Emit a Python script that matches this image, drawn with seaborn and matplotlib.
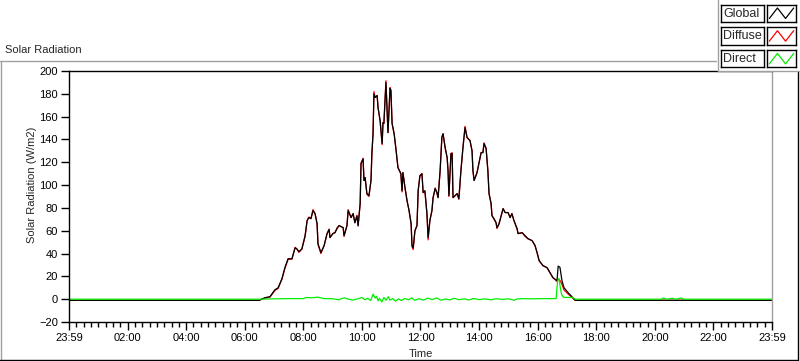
import matplotlib
matplotlib.use("Agg")
import matplotlib.pyplot as plt
import pandas as pd
import seaborn as sns
from matplotlib.lines import Line2D
from matplotlib.patches import Rectangle
from matplotlib.ticker import MultipleLocator

# ---- data (hours after 23:59, W/m2) ----
global_hours = [
    0.00, 6.49, 6.69, 6.86, 7.03, 7.14, 7.27, 7.37, 7.48, 7.61, 7.72, 7.78,
    7.85, 7.95, 8.06, 8.13, 8.19, 8.26, 8.33, 8.40, 8.47, 8.50, 8.60, 8.71,
    8.81, 8.88, 8.91, 9.01, 9.08, 9.15, 9.22, 9.36, 9.39, 9.49, 9.53, 9.63,
    9.70, 9.76, 9.83, 9.87, 9.94, 9.97, 10.04, 10.07, 10.11, 10.17, 10.24,
    10.31, 10.34, 10.38, 10.41, 10.45, 10.52, 10.55, 10.62, 10.69, 10.72,
    10.75, 10.82, 10.86, 10.89, 10.96, 10.99, 11.03, 11.10, 11.16, 11.23,
    11.33, 11.37, 11.40, 11.47, 11.54, 11.61, 11.68, 11.71, 11.75, 11.81,
    11.88, 11.92, 11.98, 12.05, 12.09, 12.15, 12.22, 12.26, 12.32, 12.39,
    12.43, 12.50, 12.56, 12.60, 12.67, 12.73, 12.77, 12.84, 12.91, 12.94,
    12.97, 13.04, 13.08, 13.11, 13.18, 13.25, 13.31, 13.38, 13.45, 13.52,
    13.59, 13.69, 13.76, 13.79, 13.83, 13.93, 14.00, 14.07, 14.13, 14.17,
    14.24, 14.30, 14.34, 14.41, 14.44, 14.51, 14.58, 14.61, 14.68, 14.71,
    14.82, 14.89, 14.99, 15.06, 15.12, 15.19, 15.30, 15.33, 15.47, 15.57,
    15.67, 15.81, 15.91, 15.98, 16.05, 16.18, 16.32, 16.42, 16.52, 16.66,
    16.70, 16.76, 16.83, 16.90, 17.04, 17.17, 17.28, 24.00,
]
global_vals = [
    -1, -1, 1.3, 2.2, 8.3, 10, 18, 27.6, 35.5, 35.5, 45, 44,
    41.7, 44, 55.7, 68.9, 71.5, 70.6, 77.6, 75, 66, 48.7, 40.8, 47,
    57.5, 61, 54, 57.5, 58.3, 61.8, 64.5, 62.7, 55.7, 64.5, 77.6, 71.5,
    75, 67, 73, 64.5, 83.8, 118.9, 123, 104, 106.6, 92.5, 90.8,
    104, 127.6, 145, 180, 176.8, 178.5, 168, 156.6, 136.4, 154.8,
    154, 190, 165.4, 146, 184.6, 183, 154, 145, 132, 115.4,
    110, 95, 111, 97.8, 86.4, 77.6, 66, 47, 45, 60,
    64.5, 95, 108, 110, 93.4, 95, 75, 54, 68.9, 77.6,
    89, 97, 93.4, 89, 112.7, 141.7, 145, 133, 124, 112.7,
    90.8, 127.6, 127.6, 89, 90.8, 92.5, 88, 112.7, 133, 150.4,
    141.7, 139, 130, 112.7, 104, 111, 119.7, 128.5, 128.5, 136.4,
    132, 112.7, 92.5, 83.8, 73.2, 70.6, 67, 62.7, 66, 68.9,
    79.4, 75.9, 75.9, 71.5, 75, 68.9, 61.8, 57.5, 58.3, 55.7,
    53, 51.3, 47, 40.8, 33.8, 29.4, 27.6, 23.2, 18.9, 16.2,
    29.0, 28.0, 16.2, 10, 5.7, 2.2, -1, -1,
]
diffuse_vals = [
    -1, -1, 1.0, 1.8, 7.6, 9.5, 17.5, 27.0, 35.0, 35.0, 45.5, 44,
    41.0, 44, 55.0, 68.9, 72.0, 70.6, 78.5, 75, 66, 48.0, 40.0, 47,
    57.5, 61.5, 54, 57.5, 58.3, 62.5, 64.5, 62.7, 55.0, 64.5, 78.5, 71.5,
    75, 67, 73.5, 64.0, 83.8, 119.5, 123.5, 104, 106.6, 92.0, 90.0,
    104, 127.6, 145, 182, 176.8, 178.5, 168, 156.6, 135.5, 154.8,
    154, 191.5, 165.4, 146, 185.5, 183, 154, 145, 132, 115.4,
    110, 94.0, 111, 97.8, 86.4, 77.6, 66, 46.0, 43.5, 60,
    64.5, 95, 108.5, 110, 93.4, 95, 75, 52, 68.9, 77.6,
    89, 97.5, 93.4, 89, 112.7, 142.5, 145, 133, 124, 112.7,
    90.0, 127.6, 128.5, 89, 90.8, 92.5, 87.5, 112.7, 133, 151.5,
    141.7, 139, 130, 112.7, 104, 111, 119.7, 128.5, 128.5, 137.0,
    132, 112.7, 92.5, 83.8, 73.2, 70.0, 67, 62.0, 66, 68.9,
    79.4, 75.9, 75.9, 71.5, 75, 68.9, 61.0, 57.5, 58.3, 55.0,
    53, 51.3, 47, 40.8, 33.8, 29.4, 27.6, 23.2, 18.9, 15.5,
    17.5, 16.5, 13.0, 8.0, 4.5, 1.6, -1, -1,
]
direct_hours = [
    0.00, 6.50, 7.00, 7.50, 8.00, 8.10, 8.30, 8.50, 8.70, 9.00, 9.20, 9.40,
    9.50, 9.70, 9.90, 10.00, 10.10, 10.20, 10.30, 10.38, 10.45, 10.50, 10.55,
    10.60, 10.68, 10.75, 10.82, 10.90, 10.95, 11.05, 11.15, 11.25, 11.35,
    11.45, 11.60, 11.70, 11.80, 11.95, 12.10, 12.25, 12.40, 12.55, 12.70,
    12.85, 13.00, 13.15, 13.30, 13.50, 13.65, 13.80, 14.00, 14.20, 14.40,
    14.60, 14.80, 15.00, 15.20, 15.30, 15.50, 15.80, 16.10, 16.40, 16.63,
    16.68, 16.73, 16.78, 16.82, 16.88, 17.20, 17.28, 20.20, 20.30, 20.40,
    20.60, 20.70, 20.90, 21.00, 24.00,
]
direct_vals = [
    0, 0, 0.3, 0.5, 0.5, 1.5, 1.2, 1.8, 0.5, 0.4, -0.5, 1.2,
    0.3, -0.8, 0.6, 1.5, -0.5, 0.8, -1.2, 4.5, 1.0, 2.5, -1.5,
    0.8, -2.5, 1.5, -1.0, 2.2, -0.8, 0.5, -1.8, 0.3, -1.2,
    0.6, -0.5, 1.2, -1.0, 0.4, -0.8, 0.9, -0.3, 1.1, -0.9,
    0.2, -0.6, 0.8, -0.4, 0.3, -0.7, 0.6, -0.3, 0.2, -0.5,
    0.4, -0.2, 0.3, -0.9, 0.2, 0.5, 0.3, 0.5, 0.5, 0.6,
    16.0, 18.0, 9.0, 4.0, 1.6, 1.5, 0, 0, 1.0, 0,
    0.8, 0, 1.0, 0, 0,
]

tick_hours = [0, 2, 4, 6, 8, 10, 12, 14, 16, 18, 20, 22, 24]
tick_labels = ["23:59", "02:00", "04:00", "06:00", "08:00", "10:00", "12:00",
               "14:00", "16:00", "18:00", "20:00", "22:00", "23:59"]
legend_names = ["Global", "Diffuse", "Direct"]
legend_colors = ["#000000", "#ff0000", "#00ee00"]

W, H = 800, 361


def fx(px):
    return px / W


def fy(py):
    return 1 - py / H


def main():
    sns.set_style("ticks")
    plt.rcParams["font.family"] = ["Liberation Sans", "DejaVu Sans"]
    plt.rcParams["font.size"] = 8

    fig = plt.figure(figsize=(W / 100, H / 100), dpi=100)
    fig.patch.set_facecolor("white")

    ax = fig.add_axes([fx(69), fy(322), fx(772) - fx(69), fy(71) - fy(322)])
    df_g = pd.DataFrame({"t": global_hours, "v": global_vals})
    df_d = pd.DataFrame({"t": global_hours, "v": diffuse_vals})
    df_x = pd.DataFrame({"t": direct_hours, "v": direct_vals})
    kw = dict(x="t", y="v", ax=ax, estimator=None, sort=False, lw=0.9)
    sns.lineplot(data=df_d, color=legend_colors[1], **kw)
    sns.lineplot(data=df_g, color=legend_colors[0], **kw)
    sns.lineplot(data=df_x, color=legend_colors[2], **kw)

    ax.set_xlim(0, 24)
    ax.set_ylim(-20, 200)
    ax.set_xticks(tick_hours)
    ax.set_xticklabels(tick_labels)
    ax.xaxis.set_minor_locator(MultipleLocator(0.25))
    ax.yaxis.set_major_locator(MultipleLocator(20))
    ax.tick_params(axis="x", which="major", length=6, width=1, pad=2, colors="black")
    ax.tick_params(axis="x", which="minor", length=3.5, width=1, color="black")
    ax.tick_params(axis="y", which="major", length=6, width=1, pad=2, colors="black")
    ax.set_xlabel("Time", labelpad=4)
    ax.set_ylabel("Solar Radiation (W/m2)")
    # LabVIEW centres the y title a bit above the plot middle
    ax.yaxis.set_label_coords(-(69 - 37) / 703, (322 - 185) / 251)
    for side in ("left", "top", "bottom"):
        ax.spines[side].set_visible(True)
        ax.spines[side].set_color("black")
        ax.spines[side].set_linewidth(1)
    ax.spines["right"].set_visible(True)
    ax.spines["right"].set_color("#a0a0a0")
    ax.spines["right"].set_linewidth(1)

    fig.text(fx(5), fy(50), "Solar Radiation", ha="left", va="center")

    # panel border (sunken style)
    fig.add_artist(Line2D([fx(0.5), fx(0.5)], [fy(61), fy(359.5)], color="#a0a0a0", lw=1))
    fig.add_artist(Line2D([fx(0), fx(717)], [fy(61), fy(61)], color="#a0a0a0", lw=1))
    fig.add_artist(Line2D([fx(797.5), fx(797.5)], [fy(70), fy(359.5)], color="black", lw=1))
    fig.add_artist(Line2D([fx(0), fx(798)], [fy(359.5), fy(359.5)], color="black", lw=1))

    # legend panel
    fig.add_artist(Rectangle((fx(717), fy(70.5)), fx(83), 70.5 / H,
                             facecolor="white", edgecolor="none", zorder=5))
    fig.add_artist(Line2D([fx(717.5), fx(717.5)], [fy(0), fy(70.5)], color="#a0a0a0", lw=1, zorder=6))
    fig.add_artist(Line2D([fx(717.5), fx(800)], [fy(70.5), fy(70.5)], color="#a0a0a0", lw=1, zorder=6))
    for i, (name, col) in enumerate(zip(legend_names, legend_colors)):
        top = 4.5 + 22.7 * i
        tb = fig.add_axes([fx(720.5), fy(top + 17.5), fx(43), 17.5 / H])
        sb = fig.add_axes([fx(767), fy(top + 17.5), fx(29), 17.5 / H])
        for a in (tb, sb):
            a.set_xticks([])
            a.set_yticks([])
            a.set_facecolor("white")
            for sp in a.spines.values():
                sp.set_visible(True)
                sp.set_color("black")
                sp.set_linewidth(1)
            a.set_zorder(7)
        tb.text(0.06, 0.47, name, ha="left", va="center", transform=tb.transAxes, fontsize=9)
        sns.lineplot(x=[0.08, 0.36, 0.64, 0.92], y=[0.2, 0.8, 0.2, 0.8], color=col,
                     lw=0.9, ax=sb, estimator=None, sort=False)
        sb.set_xlim(0, 1)
        sb.set_ylim(0, 1)
        sb.set_xlabel("")
        sb.set_ylabel("")

    fig.savefig("out.png", dpi=100, facecolor="white")
    plt.close(fig)


if __name__ == "__main__":
    main()
